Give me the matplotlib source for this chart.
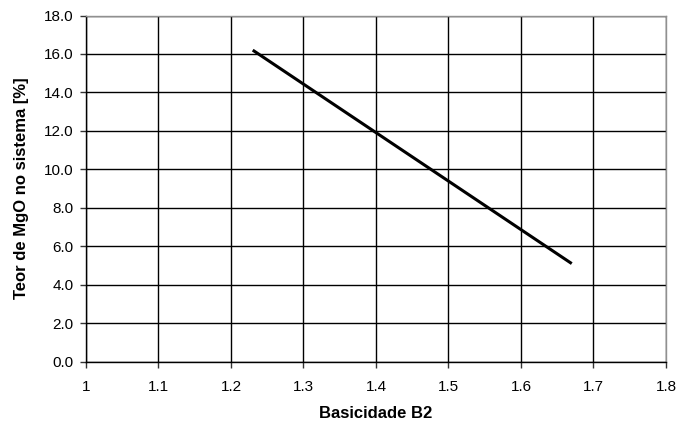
import matplotlib
matplotlib.use("Agg")
import matplotlib.pyplot as plt
import numpy as np

# dados
basicidade = [1.23, 1.67]
teor_mgo = [16.2, 5.1]
x_ticks = [1.0, 1.1, 1.2, 1.3, 1.4, 1.5, 1.6, 1.7, 1.8]
x_labels = ["1", "1.1", "1.2", "1.3", "1.4", "1.5", "1.6", "1.7", "1.8"]
y_ticks = np.arange(0, 18.1, 2.0)

plt.rcParams['font.family'] = ['Liberation Sans', 'DejaVu Sans']

fig = plt.figure(figsize=(6.78, 4.23), dpi=100)
ax = fig.add_axes([0.1268, 0.1450, 0.8555, 0.8183])

ax.plot(basicidade, teor_mgo, color='black', linewidth=2.2, solid_capstyle='butt', zorder=3)

ax.set_xlim(1.0, 1.8)
ax.set_ylim(0, 18)
ax.set_xticks(x_ticks)
ax.set_xticklabels(x_labels)
ax.set_yticks(y_ticks)
ax.set_yticklabels(["{:.1f}".format(v) for v in y_ticks])
ax.grid(True, color='black', linewidth=1.0)
ax.set_axisbelow(True)

ax.tick_params(direction='out', length=4, width=1, labelsize=11, color='#333333')
ax.tick_params(axis='x', pad=9)
ax.tick_params(axis='y', pad=5)
for side in ['left', 'bottom']:
    ax.spines[side].set_color('black')
    ax.spines[side].set_linewidth(1.0)
for side in ['top', 'right']:
    ax.spines[side].set_color('#909090')
    ax.spines[side].set_linewidth(1.0)

ax.set_xlabel("Basicidade B2", fontsize=12, fontweight='bold', va='center')
ax.set_ylabel("Teor de MgO no sistema [%]", fontsize=12, fontweight='bold', va='center')
ax.xaxis.set_label_coords(0.5, -0.151)
ax.yaxis.set_label_coords(-0.112, 0.5)

fig.savefig("out.png", dpi=100)
